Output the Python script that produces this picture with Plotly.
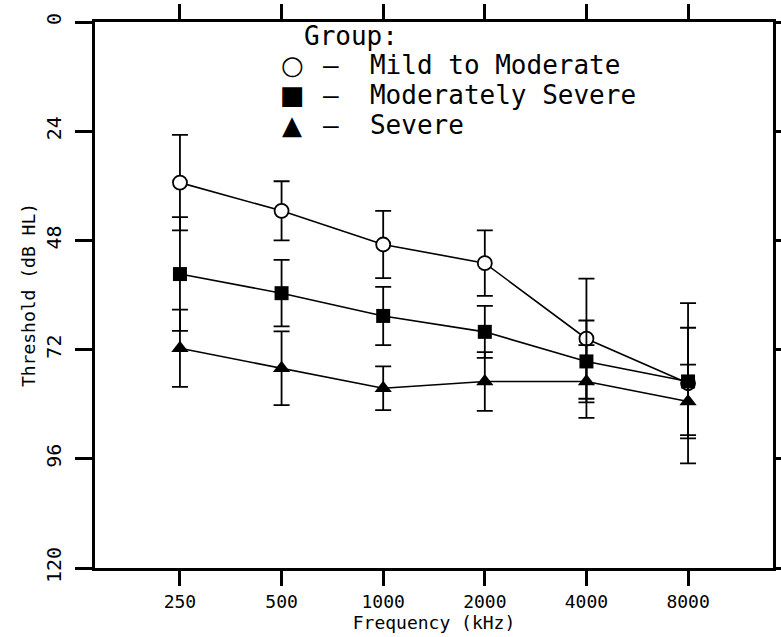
import math
import plotly.graph_objects as go

freqs = [250, 500, 1000, 2000, 4000, 8000]
freq_labels = ["250", "500", "1000", "2000", "4000", "8000"]

groups = ["Mild to Moderate", "Moderately Severe", "Severe"]
legend_glyphs = ["\u25cb", "\u25a0", "\u25b2"]
mild_mean = [35.3, 41.5, 48.9, 53.0, 69.6, 79.4]
mild_sd = [10.5, 6.5, 7.4, 7.2, 13.2, 17.6]
modsev_mean = [55.4, 59.6, 64.6, 68.1, 74.6, 79.0]
modsev_sd = [12.5, 7.3, 6.4, 5.7, 9.0, 11.8]
severe_mean = [71.7, 76.1, 80.5, 79.0, 79.0, 83.4]
severe_sd = [8.5, 8.1, 4.8, 6.45, 8.0, 8.1]

y_ticks = [0, 24, 48, 72, 96, 120]

MONO = "DejaVu Sans Mono"
SANS = "DejaVu Sans"

W, H = 781, 637
ML, MR, MT, MB = 95, 8, 22, 69
PW, PH = W - ML - MR, H - MT - MB


def px(x):
    return (x - ML) / PW


def py(y):
    return (H - MB - y) / PH


series = [
    (groups[0], mild_mean, mild_sd, dict(symbol="circle", size=14, color="white", line=dict(color="black", width=1.8))),
    (groups[1], modsev_mean, modsev_sd, dict(symbol="square", size=14, color="black", line=dict(color="black", width=0))),
    (groups[2], severe_mean, severe_sd, dict(symbol="triangle-up", size=15, color="black", line=dict(color="black", width=0))),
]

fig = go.Figure()
for name, mean, sd, marker in series:
    fig.add_trace(go.Scatter(
        x=freqs, y=mean, mode="lines+markers", name=name, showlegend=False,
        line=dict(color="black", width=1.6),
        marker=marker,
        error_y=dict(type="data", array=sd, visible=True, color="black", thickness=1.8, width=8),
    ))

lo = math.log10(freqs[0]) - 0.836 * math.log10(2)
hi = math.log10(freqs[-1]) + 0.836 * math.log10(2)

LEG_SIZE = 26
annotations = [
    dict(text="Group:", x=px(302), y=py(36), xref="paper", yref="paper",
         xanchor="left", yanchor="middle", showarrow=False,
         font=dict(family=MONO, size=LEG_SIZE, color="black")),
]
row_y = [65, 95, 125]
for glyph, name, ry in zip(legend_glyphs, groups, row_y):
    annotations.append(dict(text=glyph, x=px(292), y=py(ry), xref="paper", yref="paper",
                            xanchor="center", yanchor="middle", showarrow=False,
                            font=dict(family=SANS, size=26, color="black")))
    annotations.append(dict(text="\u2013  " + name, x=px(321), y=py(ry), xref="paper", yref="paper",
                            xanchor="left", yanchor="middle", showarrow=False,
                            font=dict(family=MONO, size=LEG_SIZE, color="black")))

fig.update_layout(
    width=W, height=H,
    margin=dict(l=ML, r=MR, t=MT, b=MB, autoexpand=False),
    paper_bgcolor="white", plot_bgcolor="white",
    font=dict(family=MONO, color="black", size=17),
    showlegend=False,
    annotations=annotations,
    xaxis=dict(
        type="log", range=[lo, hi], automargin=False,
        tickvals=freqs, ticktext=freq_labels,
        ticks="outside", ticklen=15, tickwidth=3, tickcolor="black",
        showline=True, linewidth=3, linecolor="black", mirror="ticks",
        showgrid=False, zeroline=False,
        tickfont=dict(family=MONO, size=18),
        title=dict(text="Frequency (kHz)", font=dict(family=MONO, size=18), standoff=2),
    ),
    yaxis=dict(
        range=[120, 0], automargin=False,
        tickvals=y_ticks, ticktext=[str(v) for v in y_ticks],
        ticks="outside", ticklen=17, tickwidth=3, tickcolor="black",
        showline=True, linewidth=3, linecolor="black", mirror="ticks",
        showgrid=False, zeroline=False,
        tickangle=-90, ticklabelstandoff=6,
        tickfont=dict(family=MONO, size=20),
        title=dict(text="Threshold (dB HL)", font=dict(family=MONO, size=18), standoff=2),
    ),
)

fig.write_html("out.html")
